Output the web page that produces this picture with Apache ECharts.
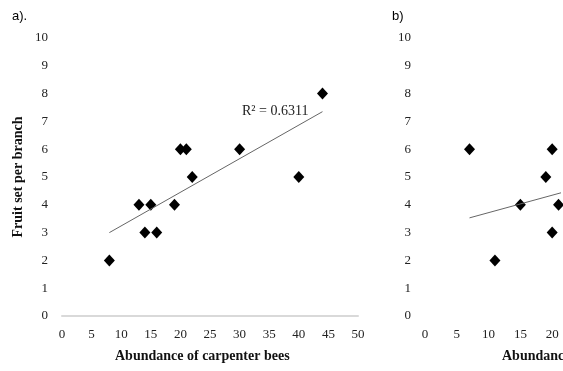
<!DOCTYPE html>
<html>
<head>
<meta charset="utf-8">
<script src="https://cdn.jsdelivr.net/npm/echarts@6/dist/echarts.min.js"></script>
<style>
html,body{margin:0;padding:0;background:#fff;}
#chart{width:563px;height:371px;}
</style>
</head>
<body>
<div id="chart"></div>
<script>
// Panel a)
const beesA = [8, 13, 14, 15, 16, 19, 20, 21, 22, 30, 40, 44];
const fruitA = [2, 4, 3, 4, 3, 4, 6, 6, 5, 6, 5, 8];
const trendAx = [8, 44];
const trendAy = [3.0, 7.35];
const r2Label = 'R\u00b2 = 0.6311';
// Panel b) (cut off at the right edge of the picture)
const beesB = [7, 11, 15, 19, 20, 20, 21];
const fruitB = [6, 2, 4, 5, 6, 3, 4];
const trendBx = [7, 22];
const trendBy = [3.53, 4.47];
// Axis settings
const xMinA = 0, xMaxA = 50, xStep = 5;
const xMinB = 0, xMaxB = 21.23; // visible part of panel b's x axis
const yMin = 0, yMax = 10, yStep = 1;
const xTitle = 'Abundance of carpenter bees';
const yTitle = 'Fruit set per branch';

const zip = (a, b) => a.map((v, i) => [v, b[i]]);
const serif = 'Liberation Serif, Times New Roman, serif';

const tickLabel = { fontFamily: serif, fontSize: 13, color: '#222' };

function xAxisCfg(gridIndex, min, max, showLine) {
  return {
    gridIndex, type: 'value', min, max, interval: xStep,
    axisLine: { show: showLine, lineStyle: { color: '#d9d9d9', width: 2 } },
    axisTick: { show: false }, splitLine: { show: false },
    axisLabel: Object.assign({
      margin: 12,
      formatter: v => (Math.abs(v / xStep - Math.round(v / xStep)) < 1e-6 ? String(v) : '')
    }, tickLabel)
  };
}
function yAxisCfg(gridIndex) {
  return {
    gridIndex, type: 'value', min: yMin, max: yMax, interval: yStep,
    axisLine: { show: false }, axisTick: { show: false }, splitLine: { show: false },
    axisLabel: Object.assign({ margin: 14 }, tickLabel)
  };
}

const chart = echarts.init(document.getElementById('chart'), null, { renderer: 'canvas' });
chart.setOption({
  animation: false,
  backgroundColor: '#fff',
  grid: [
    { left: 62, top: 38, width: 296, height: 278 },
    { left: 425, top: 38, right: 0, height: 278 }
  ],
  xAxis: [xAxisCfg(0, xMinA, xMaxA, true), xAxisCfg(1, xMinB, xMaxB, false)],
  yAxis: [yAxisCfg(0), yAxisCfg(1)],
  series: [
    { type: 'line', xAxisIndex: 0, yAxisIndex: 0, data: zip(trendAx, trendAy), showSymbol: false, silent: true,
      lineStyle: { color: '#666', width: 1 } },
    { type: 'scatter', xAxisIndex: 0, yAxisIndex: 0, data: zip(beesA, fruitA), symbol: 'diamond', symbolSize: [11, 12],
      itemStyle: { color: '#000', opacity: 1 } },
    { type: 'line', xAxisIndex: 1, yAxisIndex: 1, data: zip(trendBx, trendBy), showSymbol: false, silent: true,
      lineStyle: { color: '#666', width: 1 } },
    { type: 'scatter', xAxisIndex: 1, yAxisIndex: 1, data: zip(beesB, fruitB), symbol: 'diamond', symbolSize: [11, 12],
      clip: false, itemStyle: { color: '#000', opacity: 1 } }
  ],
  graphic: [
    { type: 'text', left: 12, top: 10, style: { text: 'a).', font: '13px Liberation Sans, Arial, sans-serif', fill: '#000' } },
    { type: 'text', left: 392, top: 10, style: { text: 'b)', font: '13px Liberation Sans, Arial, sans-serif', fill: '#000' } },
    { type: 'text', left: 242, top: 104, style: { text: r2Label, font: '14px ' + serif, fill: '#222' } },
    { type: 'text', left: 115, top: 349, style: { text: xTitle, font: 'bold 14px ' + serif, fill: '#111' } },
    { type: 'text', left: 502, top: 349, style: { text: xTitle, font: 'bold 14px ' + serif, fill: '#111' } },
    { type: 'text', x: 18, y: 177, rotation: Math.PI / 2,
      style: { text: yTitle, font: 'bold 14px ' + serif, fill: '#111', align: 'center', verticalAlign: 'middle' } }
  ]
});
</script>
</body>
</html>
